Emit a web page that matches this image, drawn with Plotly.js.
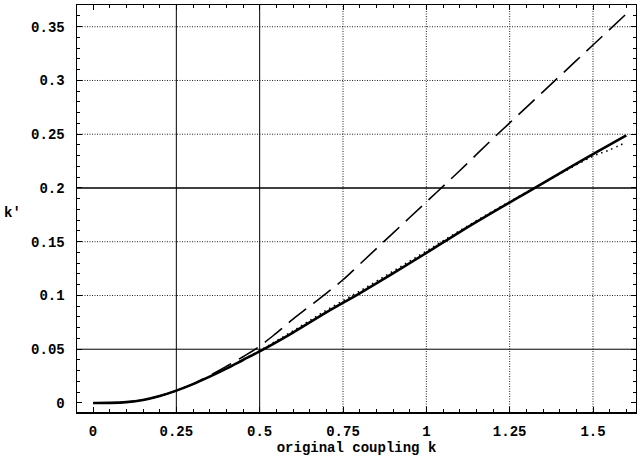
<!DOCTYPE html>
<html>
<head>
<meta charset="utf-8">
<script src="https://cdn.plot.ly/plotly-3.0.1.min.js"></script>
<style>html,body{margin:0;padding:0;background:#fff;}#chart{width:637px;height:458px;}</style>
</head>
<body>
<div id="chart"></div>
<script>
// original coupling k
const kSolid = [0, 0.05, 0.1, 0.15, 0.2, 0.25, 0.3, 0.35, 0.4, 0.45, 0.5, 0.6, 0.7, 0.8, 0.9, 1.0, 1.1, 1.2, 1.3, 1.4, 1.5, 1.6];
const ySolid = [0, 0.0001, 0.0008, 0.0028, 0.0065, 0.0115, 0.0175, 0.0245, 0.032, 0.040, 0.048, 0.0655, 0.0843, 0.102, 0.1205, 0.1395, 0.159, 0.1775, 0.1955, 0.2135, 0.2315, 0.249];
const kDashed = [0, 0.05, 0.1, 0.15, 0.2, 0.25, 0.3, 0.35, 0.4, 0.45, 0.5, 0.55, 0.6, 0.65, 0.7, 0.75, 0.8, 0.9, 1.0, 1.1, 1.2, 1.3, 1.4, 1.5, 1.6];
const yDashed = [0, 0.0001, 0.0008, 0.0028, 0.0065, 0.0115, 0.0177, 0.0255, 0.034, 0.043, 0.0528, 0.065, 0.078, 0.090, 0.102, 0.1146, 0.129, 0.158, 0.187, 0.216, 0.246, 0.275, 0.304, 0.333, 0.362];
const kDotted = [0, 0.05, 0.1, 0.15, 0.2, 0.25, 0.3, 0.35, 0.4, 0.45, 0.5, 0.6, 0.7, 0.8, 0.9, 1.0, 1.1, 1.2, 1.3, 1.4, 1.5, 1.55, 1.6];
const yDotted = [0, 0.0001, 0.0008, 0.0028, 0.0065, 0.0115, 0.0175, 0.0245, 0.032, 0.0403, 0.0487, 0.067, 0.0862, 0.104, 0.1225, 0.1413, 0.1602, 0.1785, 0.196, 0.213, 0.2295, 0.2355, 0.2425];

const xTickVals = [0, 0.25, 0.5, 0.75, 1, 1.25, 1.5];
const xTickText = ['0', '0.25', '0.5', '0.75', '1', '1.25', '1.5'];
const yTickVals = [0, 0.05, 0.1, 0.15, 0.2, 0.25, 0.3, 0.35];
const yTickText = ['0', '0.05', '0.1', '0.15', '0.2', '0.25', '0.3', '0.35'];

const gridXSolid = [0.25, 0.5];
const gridXDotted = [0.75, 1, 1.25, 1.5];
const gridYSolid = [0.05, 0.2];
const gridYDotted = [0.1, 0.15, 0.25, 0.3, 0.35];

const FONT = 'Liberation Mono, Courier New, monospace';

const shapes = [];
gridXSolid.forEach(v => shapes.push({type:'line', xref:'x', yref:'paper', x0:v, x1:v, y0:0, y1:1, line:{color:'#000', width:1}, layer:'below'}));
gridXDotted.forEach(v => shapes.push({type:'line', xref:'x', yref:'paper', x0:v, x1:v, y0:0, y1:1, line:{color:'#222', width:1, dash:'1px,1.5px'}, layer:'below'}));
gridYSolid.forEach(v => shapes.push({type:'line', xref:'paper', yref:'y', x0:0, x1:1, y0:v, y1:v, line:{color:'#000', width: v===0.2?1.5:1}, layer:'below'}));
gridYDotted.forEach(v => shapes.push({type:'line', xref:'paper', yref:'y', x0:0, x1:1, y0:v, y1:v, line:{color:'#222', width:1, dash:'1px,1.5px'}, layer:'below'}));

const traces = [
  {x:kDashed, y:yDashed, mode:'lines', line:{color:'#000', width:1.6, dash:'22px,9px', shape:'spline'}, hoverinfo:'skip'},
  {x:kSolid, y:ySolid, mode:'lines', line:{color:'#000', width:2.6, shape:'spline'}, hoverinfo:'skip'},
  {x:kDotted, y:yDotted, mode:'lines', line:{color:'#000', width:1.6, dash:'1.5px,4px', shape:'spline'}, hoverinfo:'skip'}
];

const axisCommon = {
  showgrid:false, zeroline:false, showline:true, mirror:'allticks', linecolor:'#000', linewidth:1.5,
  ticks:'inside', ticklen:5, tickwidth:1, tickcolor:'#000',
  tickfont:{family:FONT, size:14, color:'#000', weight:'bold'},
  tickmode:'array'
};

const layout = {
  width:637, height:458,
  margin:{l:77, r:1, t:5, b:46},
  paper_bgcolor:'#fff', plot_bgcolor:'#fff',
  showlegend:false,
  xaxis: Object.assign({}, axisCommon, {
    range:[-0.048, 1.629], tickvals:xTickVals, ticktext:xTickText,
    minor:{dtick:0.05, ticks:'inside', ticklen:3, tickcolor:'#000', showgrid:false},
    ticklabelstandoff:6,
    title:{text:'original coupling k', font:{family:FONT, size:14, color:'#000', weight:'bold'}, standoff:3}
  }),
  yaxis: Object.assign({}, axisCommon, {
    range:[-0.0084, 0.3702], tickvals:yTickVals, ticktext:yTickText,
    minor:{dtick:0.01, ticks:'inside', ticklen:3, tickcolor:'#000', showgrid:false},
    ticklabelstandoff:8
  }),
  shapes: shapes,
  annotations:[
    {text:'k′', xref:'paper', yref:'paper', x:-0.115, y:0.49, xanchor:'center', yanchor:'middle', showarrow:false,
     font:{family:FONT, size:14, color:'#000', weight:'bold'}}
  ]
};

Plotly.newPlot('chart', traces, layout, {staticPlot:true, displayModeBar:false});
</script>
</body>
</html>
